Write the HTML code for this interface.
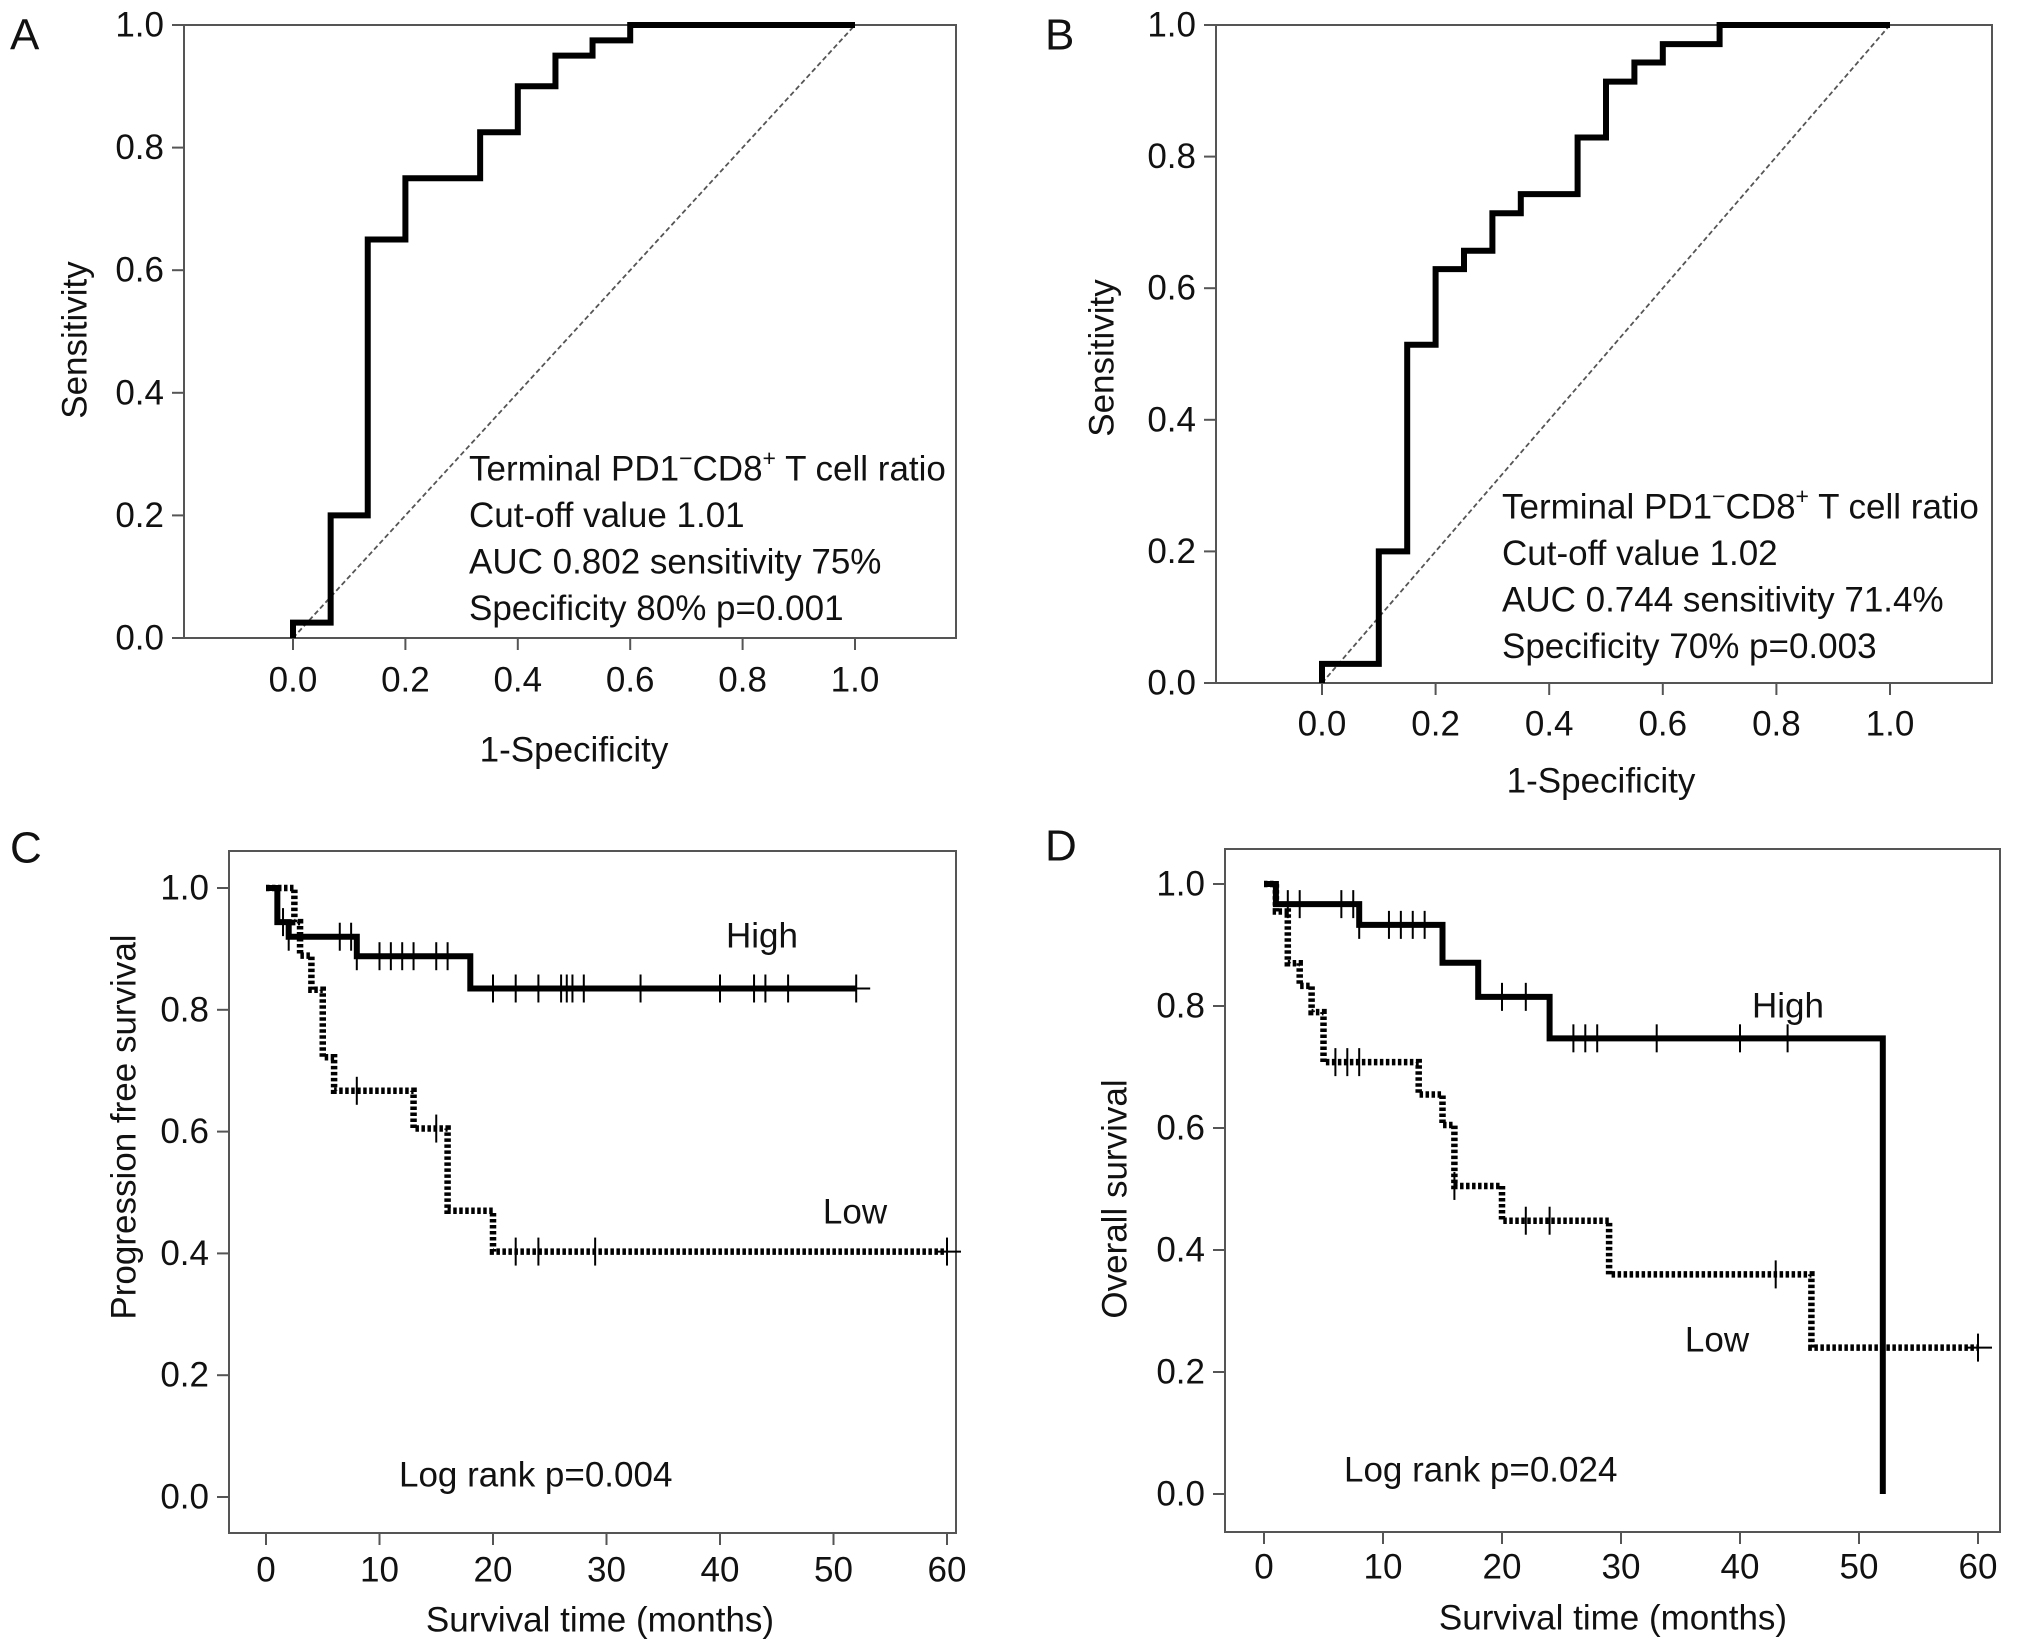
<!DOCTYPE html>
<html><head><meta charset="utf-8"><style>
html,body{margin:0;padding:0;background:#fff}
svg{display:block}
text{font-family:"Liberation Sans",Arial,sans-serif;fill:#111}
</style></head><body>
<svg id="fig" width="2032" height="1652" viewBox="0 0 2032 1652" xmlns="http://www.w3.org/2000/svg"></svg>
<script>
// ROC A
const rocAFpr=[0,0,0.067,0.067,0.133,0.133,0.2,0.2,0.333,0.333,0.4,0.4,0.467,0.467,0.533,0.533,0.6,0.6,1];
const rocATpr=[0,0.025,0.025,0.2,0.2,0.65,0.65,0.75,0.75,0.825,0.825,0.9,0.9,0.95,0.95,0.975,0.975,1,1];
// ROC B
const rocBFpr=[0,0,0.1,0.1,0.15,0.15,0.2,0.2,0.25,0.25,0.3,0.3,0.35,0.35,0.45,0.45,0.5,0.5,0.55,0.55,0.6,0.6,0.7,0.7,1];
const rocBTpr=[0,0.029,0.029,0.2,0.2,0.514,0.514,0.629,0.629,0.657,0.657,0.714,0.714,0.743,0.743,0.829,0.829,0.914,0.914,0.943,0.943,0.971,0.971,1,1];
const rocTicks=[0,0.2,0.4,0.6,0.8,1.0];
const rocTickLabels=["0.0","0.2","0.4","0.6","0.8","1.0"];
// KM C
const cHighT=[0,1,2,8,18,52];
const cHighS=[1,0.944,0.92,0.888,0.835,0.835];
const cHighCens=[1.5,2,6.5,7.5,8,10,11,12,13,15,16,20,22,24,26,26.5,27,28,33,40,43,44,46,52];
const cLowT=[0,2.5,3,4,5,6,13,16,20,60];
const cLowS=[1,0.944,0.889,0.833,0.722,0.667,0.605,0.47,0.403,0.403];
const cLowCens=[8,15,22,24,29,60];
// KM D
const dHighT=[0,1,8,15,18,24,52,52];
const dHighS=[1,0.967,0.933,0.871,0.815,0.747,0.747,0];
const dHighCens=[2,3,6.5,7.5,8,10.5,11.5,12.5,13.5,20,22,26,27,28,33,40,44];
const dLowT=[0,1,2,3,4,5,13,15,16,20,29,46,60];
const dLowS=[1,0.955,0.87,0.833,0.79,0.708,0.655,0.605,0.505,0.448,0.36,0.24,0.24];
const dLowCens=[6,7,8,16,22,24,43,52,60];
const kmTicks=[0,10,20,30,40,50,60];
const kmYTicks=[0,0.2,0.4,0.6,0.8,1.0];
const kmYLabels=["0.0","0.2","0.4","0.6","0.8","1.0"];

const NS="http://www.w3.org/2000/svg";
const svg=document.getElementById('fig');
const FS=35;
function el(tag,attrs,parent){const e=document.createElementNS(NS,tag);for(const k in attrs)e.setAttribute(k,attrs[k]);(parent||svg).appendChild(e);return e;}
function txt(s,x,y,size,anchor,parent,rot){const t=el('text',{x:x,y:y,'font-size':size,'text-anchor':anchor||'start','dominant-baseline':'central'},parent);if(rot)t.setAttribute('transform','rotate(-90 '+x+' '+y+')');t.textContent=s;return t;}

function panel(cfg){
  const g=el('g',{});
  
  
  const X=v=>cfg.x0+(v-cfg.xmin)/(cfg.xmax-cfg.xmin)*(cfg.x1-cfg.x0);
  const Y=v=>cfg.y0+(v-cfg.ymin)/(cfg.ymax-cfg.ymin)*(cfg.y1-cfg.y0);
  const f=el('rect',{x:cfg.L,y:cfg.T,width:cfg.R-cfg.L,height:cfg.B-cfg.T,fill:'none',stroke:'#555','stroke-width':2},g);
  
  
  cfg.yt.forEach((v,i)=>{
    const tk=el('line',{x1:cfg.L-12,x2:cfg.L,y1:Y(v),y2:Y(v),stroke:'#555','stroke-width':2},g);
    
    
    const t=txt(cfg.ytl[i],cfg.L-20,Y(v),FS,'end',g);
    
    
  });
  cfg.xt.forEach((v,i)=>{
    const tk=el('line',{x1:X(v),x2:X(v),y1:cfg.B,y2:cfg.B+12,stroke:'#555','stroke-width':2},g);
    
    
    const t=txt(cfg.xtl[i],X(v),cfg.xtY,FS,'middle',g);
    
    
  });
  const xt=txt(cfg.xtitle,cfg.xtitleX,cfg.xtitleY,FS,'middle',g);
  
  
  const yt=txt(cfg.ytitle,cfg.ytitleX,cfg.ytitleY,FS,'middle',g,true);
  
  
  const pl=txt(cfg.letter,cfg.lx,cfg.ly,44,'start',g);
  
  
  return {g,X,Y};
}
function polyFrom(xs,ys,X,Y){return xs.map((x,i)=>X(x)+','+Y(ys[i])).join(' ');}
function stepPts(ts,ss,X,Y){let p=[];for(let i=0;i<ts.length;i++){if(i>0)p.push(X(ts[i])+','+Y(ss[i-1]));p.push(X(ts[i])+','+Y(ss[i]));}return p.join(' ');}
function survAt(ts,ss,t){let s=ss[0];for(let i=0;i<ts.length;i++){if(ts[i]<=t)s=ss[i];}return s;}

function roc(cfg,fpr,tpr,lines,ax,ay){
  const p=panel(cfg);
  const d=el('line',{x1:p.X(0),y1:p.Y(0),x2:p.X(1),y2:p.Y(1),stroke:'#555','stroke-width':1.8,'stroke-dasharray':'5 3'},p.g);
  
  
  const c=el('polyline',{points:polyFrom(fpr,tpr,p.X,p.Y),fill:'none',stroke:'#000','stroke-width':6,'stroke-linejoin':'miter'},p.g);
  
  
  const a=el('text',{x:ax,y:ay,'font-size':FS},p.g);
  
  
  lines.forEach((ln,i)=>{const s=el('tspan',{x:ax,y:ay+i*46.5,'dominant-baseline':'central'},a);s.innerHTML=ln;});
}
function km(cfg,high,low,labels){
  const p=panel(cfg);
  [[low,'low',true],[high,'high',false]].forEach(([s,nm,dot])=>{
    const l=el('polyline',{points:stepPts(s.t,s.s,p.X,p.Y),fill:'none',stroke:'#000','stroke-width':dot?6.5:6});
    if(dot)l.setAttribute('stroke-dasharray','3.5 2.5');
    p.g.appendChild(l);
    
    
    s.c.forEach(t=>{
      const y=p.Y(survAt(s.t,s.s,t));
      const m=el('line',{x1:p.X(t),x2:p.X(t),y1:y-14,y2:y+14,stroke:'#000','stroke-width':2},p.g);
      
      
    });
    const last=s.c[s.c.length-1];
    const ext=el('line',{x1:p.X(last)-12,x2:p.X(last)+14,y1:p.Y(survAt(s.t,s.s,last-0.01)),y2:p.Y(survAt(s.t,s.s,last-0.01)),stroke:'#000','stroke-width':2},p.g);
    
    
  });
  labels.forEach(([s,x,y,anc,n])=>{const t=txt(s,x,y,FS,anc,p.g);});
}

const termLine='Terminal PD1<tspan dy="-11" font-size="23">−</tspan><tspan dy="11">CD8</tspan><tspan dy="-11" font-size="23">+</tspan><tspan dy="11"> T cell ratio</tspan>';
roc({name:'panel-a-roc',L:184,R:956,T:25,B:638,x0:293,x1:855,xmin:0,xmax:1,y0:638,y1:25,ymin:0,ymax:1,
  yt:rocTicks,ytl:rocTickLabels,xt:rocTicks,xtl:rocTickLabels,xtY:680,xtitle:'1-Specificity',xtitleX:574,xtitleY:750,
  ytitle:'Sensitivity',ytitleX:75,ytitleY:340,letter:'A',lx:10,ly:35},rocAFpr,rocATpr,
  [termLine,'Cut-off value 1.01','AUC 0.802 sensitivity 75%','Specificity 80% p=0.001'],469,469);
roc({name:'panel-b-roc',L:1216,R:1992,T:25,B:683,x0:1322,x1:1890,xmin:0,xmax:1,y0:683,y1:25,ymin:0,ymax:1,
  yt:rocTicks,ytl:rocTickLabels,xt:rocTicks,xtl:rocTickLabels,xtY:724,xtitle:'1-Specificity',xtitleX:1601,xtitleY:781,
  ytitle:'Sensitivity',ytitleX:1102,ytitleY:358,letter:'B',lx:1045,ly:35},rocBFpr,rocBTpr,
  [termLine,'Cut-off value 1.02','AUC 0.744 sensitivity 71.4%','Specificity 70% p=0.003'],1502,507);
km({name:'panel-c-pfs',L:229,R:956,T:851,B:1533,x0:266,x1:947,xmin:0,xmax:60,y0:1497,y1:888,ymin:0,ymax:1,
  yt:kmYTicks,ytl:kmYLabels,xt:kmTicks,xtl:kmTicks.map(String),xtY:1570,xtitle:'Survival time (months)',xtitleX:600,xtitleY:1620,
  ytitle:'Progression free survival',ytitleX:124,ytitleY:1127,letter:'C',lx:10,ly:848},
  {t:cHighT,s:cHighS,c:cHighCens},{t:cLowT,s:cLowS,c:cLowCens},
  [['High',762,936,'middle','high-label'],['Low',855,1212,'middle','low-label'],['Log rank p=0.004',399,1475,'start','log-rank-p']]);
km({name:'panel-d-os',L:1225,R:2000,T:849,B:1532,x0:1264,x1:1978,xmin:0,xmax:60,y0:1494,y1:884,ymin:0,ymax:1,
  yt:kmYTicks,ytl:kmYLabels,xt:kmTicks,xtl:kmTicks.map(String),xtY:1567,xtitle:'Survival time (months)',xtitleX:1613,xtitleY:1618,
  ytitle:'Overall survival',ytitleX:1115,ytitleY:1199,letter:'D',lx:1045,ly:846},
  {t:dHighT,s:dHighS,c:dHighCens},{t:dLowT,s:dLowS,c:dLowCens},
  [['High',1788,1006,'middle','high-label'],['Low',1717,1340,'middle','low-label'],['Log rank p=0.024',1344,1470,'start','log-rank-p']]);
</script>
</body></html>
